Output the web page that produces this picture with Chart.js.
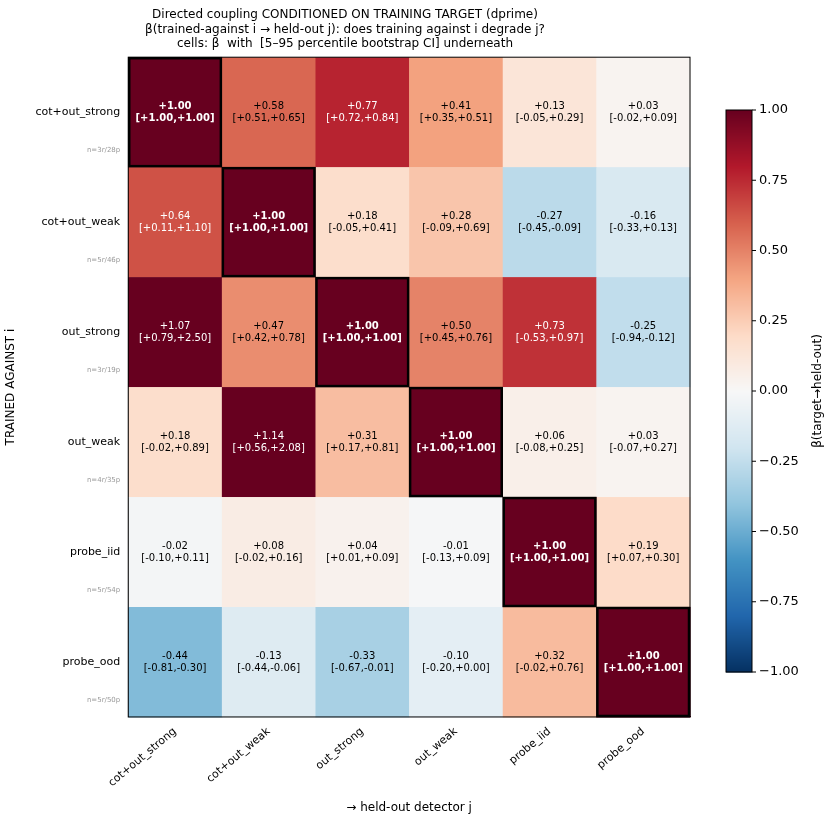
<!DOCTYPE html>
<html><head><meta charset="utf-8">
<script src="https://cdn.jsdelivr.net/npm/chart.js@4"></script>
<style>body{margin:0;background:#fff}#wrap{width:834px;height:829px}</style>
</head><body><div id="wrap"><canvas id="c"></canvas></div>
<script>
const detectors = ['cot+out_strong','cot+out_weak','out_strong','out_weak','probe_iid','probe_ood'];
const rowCounts = ['n=3r/28p','n=5r/46p','n=3r/19p','n=4r/35p','n=5r/54p','n=5r/50p'];
const beta = [
  [1.00, 0.58, 0.77, 0.41, 0.13, 0.03],
  [0.64, 1.00, 0.18, 0.28, -0.27, -0.16],
  [1.07, 0.47, 1.00, 0.50, 0.73, -0.25],
  [0.18, 1.14, 0.31, 1.00, 0.06, 0.03],
  [-0.02, 0.08, 0.04, -0.01, 1.00, 0.19],
  [-0.44, -0.13, -0.33, -0.10, 0.32, 1.00]
];
const ciLow = [
  [1.00, 0.51, 0.72, 0.35, -0.05, -0.02],
  [0.11, 1.00, -0.05, -0.09, -0.45, -0.33],
  [0.79, 0.42, 1.00, 0.45, -0.53, -0.94],
  [-0.02, 0.56, 0.17, 1.00, -0.08, -0.07],
  [-0.10, -0.02, 0.01, -0.13, 1.00, 0.07],
  [-0.81, -0.44, -0.67, -0.20, -0.02, 1.00]
];
const ciHigh = [
  [1.00, 0.65, 0.84, 0.51, 0.29, 0.09],
  [1.10, 1.00, 0.41, 0.69, -0.09, 0.13],
  [2.50, 0.78, 1.00, 0.76, 0.97, -0.12],
  [0.89, 2.08, 0.81, 1.00, 0.25, 0.27],
  [0.11, 0.16, 0.09, 0.09, 1.00, 0.30],
  [-0.30, -0.06, -0.01, -0.00, 0.76, 1.00]
];
const cbTicks = [-1.00, -0.75, -0.50, -0.25, 0.00, 0.25, 0.50, 0.75, 1.00];

const rdbu = ['#053061','#2166ac','#4393c3','#92c5de','#d1e5f0','#f7f7f7','#fddbc7','#f4a582','#d6604d','#b2182b','#67001f'];
function hex(h){return [1,3,5].map(i=>parseInt(h.substr(i,2),16));}
function cmap(v){
  let t = (Math.max(-1, Math.min(1, v)) + 1) / 2 * 10;
  let i = Math.min(9, Math.floor(t)), f = t - i;
  let a = hex(rdbu[i]), b = hex(rdbu[i+1]);
  return 'rgb(' + a.map((x,k)=>Math.round(x + (b[k]-x)*f)).join(',') + ')';
}
const fmt = v => (v >= 0 ? '+' : '-') + Math.abs(v).toFixed(2);

const heatmap = {
  id: 'heatmap',
  beforeDatasetsDraw(chart) {
    const {ctx, scales:{x, y}, chartArea:a} = chart;
    const w = x.getPixelForValue(1) - x.getPixelForValue(0);
    const h = y.getPixelForValue(1) - y.getPixelForValue(0);
    ctx.save();
    beta.forEach((row, i) => row.forEach((v, j) => {
      const cx = x.getPixelForValue(j), cy = y.getPixelForValue(i);
      ctx.fillStyle = cmap(v);
      ctx.fillRect(cx - w/2, cy - h/2, w + 0.5, h + 0.5);
    }));
    beta.forEach((row, i) => row.forEach((v, j) => {
      const cx = x.getPixelForValue(j), cy = y.getPixelForValue(i);
      const diag = i === j;
      if (diag) { ctx.strokeStyle = '#000'; ctx.lineWidth = 2.5; ctx.strokeRect(cx - w/2 + 1, cy - h/2 + 1, w - 2, h - 2); }
      ctx.fillStyle = Math.abs(v) > 0.6 ? '#fff' : '#000';
      ctx.font = (diag ? 'bold ' : '') + '10px "DejaVu Sans"';
      ctx.textAlign = 'center'; ctx.textBaseline = 'middle';
      ctx.fillText(fmt(v), cx, cy - 6);
      ctx.fillText('[' + fmt(ciLow[i][j]) + ',' + fmt(ciHigh[i][j]) + ']', cx, cy + 6);
    }));
    ctx.strokeStyle = '#000'; ctx.lineWidth = 1;
    ctx.strokeRect(a.left, a.top, a.right - a.left, a.bottom - a.top);
    // row sample counts
    ctx.fillStyle = '#999'; ctx.font = '7px "DejaVu Sans"'; ctx.textAlign = 'right';
    rowCounts.forEach((t, i) => ctx.fillText(t, a.left - 8, y.getPixelForValue(i) + 38));
    // colorbar
    const bx = 726, bw = 26, top = 110, bot = 672;
    for (let p = top; p < bot; p++) {
      ctx.fillStyle = cmap(1 - 2 * (p - top) / (bot - top));
      ctx.fillRect(bx, p, bw, 1.5);
    }
    ctx.strokeRect(bx, top, bw, bot - top);
    ctx.fillStyle = '#000'; ctx.font = '13px "DejaVu Sans"'; ctx.textAlign = 'left'; ctx.textBaseline = 'middle';
    cbTicks.forEach(t => {
      const py = top + (1 - t) / 2 * (bot - top);
      ctx.beginPath(); ctx.moveTo(bx + bw, py); ctx.lineTo(bx + bw + 4, py); ctx.stroke();
      ctx.fillText(t < 0 ? '\u2212' + Math.abs(t).toFixed(2) : t.toFixed(2), bx + bw + 7, py);
    });
    ctx.translate(818, (top + bot) / 2); ctx.rotate(-Math.PI / 2);
    ctx.textAlign = 'center'; ctx.font = '12px "DejaVu Sans"';
    ctx.fillText('\u03b2(target\u2192held-out)', 0, 0);
    ctx.restore();
  }
};

new Chart(document.getElementById('c'), {
  type: 'scatter',
  data: { datasets: [{ data: detectors.map(d => ({x: d, y: d})), pointRadius: 0 }] },
  options: {
    responsive: true, maintainAspectRatio: false, animation: false,
    layout: { padding: { left: 0, right: 144, top: 0, bottom: 0 } },
    plugins: {
      legend: { display: false }, tooltip: { enabled: false },
      title: {
        display: true, color: '#000', padding: { top: 8, bottom: 6 },
        font: { family: 'DejaVu Sans', size: 12, weight: 'normal', lineHeight: 1.2 },
        text: ['Directed coupling CONDITIONED ON TRAINING TARGET (dprime)',
               '\u03b2(trained-against i \u2192 held-out j): does training against i degrade j?',
               'cells: \u03b2  with  [5\u201395 percentile bootstrap CI] underneath']
      }
    },
    scales: {
      x: {
        type: 'category', labels: detectors, offset: true,
        grid: { display: false, drawTicks: true, tickLength: 5, tickColor: '#000' },
        border: { color: '#000' },
        ticks: { color: '#000', maxRotation: 40, minRotation: 40, font: { family: 'DejaVu Sans', size: 11 } },
        title: { display: true, text: '\u2192 held-out detector j', color: '#000', font: { family: 'DejaVu Sans', size: 12 }, padding: { top: 8, bottom: 14 } }
      },
      y: {
        type: 'category', labels: detectors, offset: true,
        grid: { display: false, tickLength: 5, tickColor: '#000' },
        border: { color: '#000' },
        ticks: { color: '#000', font: { family: 'DejaVu Sans', size: 11 } },
        title: { display: true, text: 'TRAINED AGAINST i', color: '#000', font: { family: 'DejaVu Sans', size: 12 }, padding: { top: 4, bottom: 14 } }
      }
    }
  },
  plugins: [heatmap]
});
</script></body></html>
